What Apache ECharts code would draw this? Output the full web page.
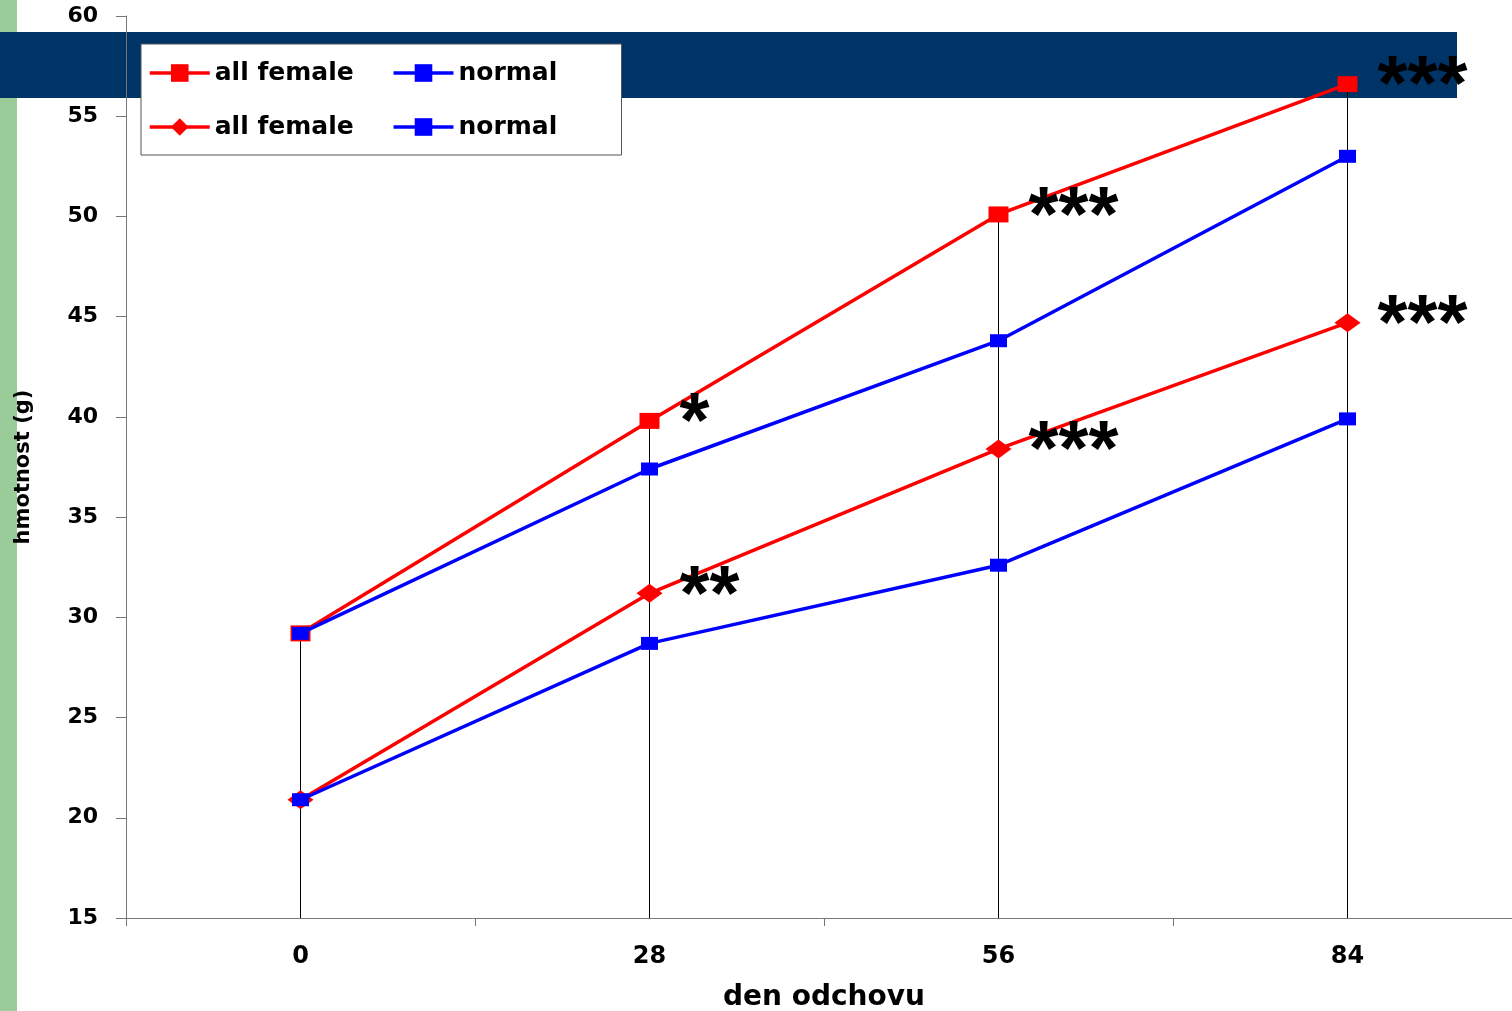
<!DOCTYPE html>
<html>
<head>
<meta charset="utf-8">
<script src="https://cdn.jsdelivr.net/npm/echarts@6/dist/echarts.min.js"></script>
<style>
  html, body { margin: 0; padding: 0; background: #ffffff; }
  #chart { width: 1512px; height: 1011px; }
</style>
</head>
<body>
<div id="chart"></div>
<script>
// ---- data ----
const categories = ['0', '28', '56', '84'];
const allFemaleUpper = [29.2, 39.8, 50.1, 56.6];
const normalUpper = [29.2, 37.4, 43.8, 53.0];
const allFemaleLower = [20.9, 31.2, 38.4, 44.7];
const normalLower = [20.9, 28.7, 32.6, 39.9];
const sigUpper = ['', '*', '***', '***'];
const sigLower = ['', '**', '***', '***'];
const yMin = 15;
const yMax = 60;
const yStep = 5;
const legendLabels = ['all female', 'normal', 'all female', 'normal'];
const seriesIds = ['all female (1)', 'normal (1)', 'all female (2)', 'normal (2)'];
const xTitle = 'den odchovu';
const yTitle = 'hmotnost (g)';

// ---- chart ----
const FONT = 'DejaVu Sans';
const STAR_FONT = 'Liberation Sans';
const RED = '#FF0000';
const BLUE = '#0000FF';
const AXIS = '#777777';

const dropTops = categories.map((c, i) =>
  Math.max(allFemaleUpper[i], normalUpper[i], allFemaleLower[i], normalLower[i]));

function sigLabel(arr, distance) {
  return {
    show: true,
    position: 'right',
    distance: distance,
    offset: [0, 5],
    formatter: p => arr[p.dataIndex],
    fontFamily: STAR_FONT,
    fontWeight: 'bold',
    fontSize: 77,
    color: '#000000'
  };
}

const chart = echarts.init(document.getElementById('chart'), null, { renderer: 'canvas' });
chart.setOption({
  animation: false,
  backgroundColor: '#ffffff',
  graphic: [
    { type: 'rect', silent: true, z: -10, shape: { x: 0, y: 0, width: 17, height: 1011 }, style: { fill: '#99CC99' } },
    { type: 'rect', silent: true, z: -10, shape: { x: 0, y: 32, width: 1457, height: 66 }, style: { fill: '#003366' } }
  ],
  grid: { left: 126, right: -10, top: 16, bottom: 93, containLabel: false, outerBoundsMode: 'none' },
  legend: {
    data: [seriesIds[0], seriesIds[1], '', seriesIds[2], seriesIds[3]],
    formatter: n => legendLabels[seriesIds.indexOf(n)],
    orient: 'horizontal',
    left: 141,
    top: 44,
    padding: [14, 10, 13, 7],
    itemGap: 24,
    itemWidth: 60,
    itemHeight: 22,
    backgroundColor: '#ffffff',
    borderColor: '#555555',
    borderWidth: 1,
    selectedMode: false,
    z: 10,
    lineStyle: { width: 3.5 },
    textStyle: { fontFamily: FONT, fontWeight: 'bold', fontSize: 25, color: '#000000', width: 153, lineHeight: 30 }
  },
  xAxis: {
    type: 'category',
    data: categories,
    boundaryGap: true,
    axisLine: { show: true, lineStyle: { color: AXIS, width: 1 } },
    axisTick: { show: true, length: 8, lineStyle: { color: AXIS } },
    axisLabel: { margin: 27, fontFamily: FONT, fontWeight: 'bold', fontSize: 24, color: '#000000' },
    splitLine: { show: false },
    name: xTitle,
    nameLocation: 'middle',
    nameGap: 66,
    nameTextStyle: { fontFamily: FONT, fontWeight: 'bold', fontSize: 28, color: '#000000' }
  },
  yAxis: {
    type: 'value',
    min: yMin,
    max: yMax,
    interval: yStep,
    splitLine: { show: false },
    axisLine: { show: true, lineStyle: { color: AXIS, width: 1 } },
    axisTick: { show: true, length: 10, lineStyle: { color: AXIS } },
    axisLabel: { margin: 28, fontFamily: FONT, fontWeight: 'bold', fontSize: 22, color: '#000000' },
    name: yTitle,
    nameLocation: 'middle',
    nameGap: 92,
    nameTextStyle: { fontFamily: FONT, fontWeight: 'bold', fontSize: 21, color: '#000000' }
  },
  series: [
    {
      type: 'custom',
      name: 'drop lines',
      silent: true,
      z: 1,
      data: dropTops.map((v, i) => [i, v]),
      renderItem: (params, api) => {
        const top = api.coord([api.value(0), api.value(1)]);
        const bot = api.coord([api.value(0), yMin]);
        return {
          type: 'line',
          shape: { x1: top[0], y1: top[1], x2: bot[0], y2: bot[1] },
          style: { stroke: '#000000', lineWidth: 1 }
        };
      }
    },
    {
      name: seriesIds[0], type: 'line', data: allFemaleUpper, z: 3,
      symbol: 'rect', symbolSize: [20, 16],
      lineStyle: { color: RED, width: 3.5 }, itemStyle: { color: RED },
      label: sigLabel(sigUpper, 20)
    },
    {
      name: seriesIds[1], type: 'line', data: normalUpper, z: 4,
      symbol: 'rect', symbolSize: [17, 13],
      lineStyle: { color: BLUE, width: 3.5 }, itemStyle: { color: BLUE }
    },
    {
      name: seriesIds[2], type: 'line', data: allFemaleLower, z: 3,
      symbol: 'diamond', symbolSize: [26, 19],
      lineStyle: { color: RED, width: 3.5 }, itemStyle: { color: RED },
      label: sigLabel(sigLower, 17)
    },
    {
      name: seriesIds[3], type: 'line', data: normalLower, z: 4,
      symbol: 'rect', symbolSize: [17, 13],
      lineStyle: { color: BLUE, width: 3.5 }, itemStyle: { color: BLUE }
    }
  ]
});
</script>
</body>
</html>
